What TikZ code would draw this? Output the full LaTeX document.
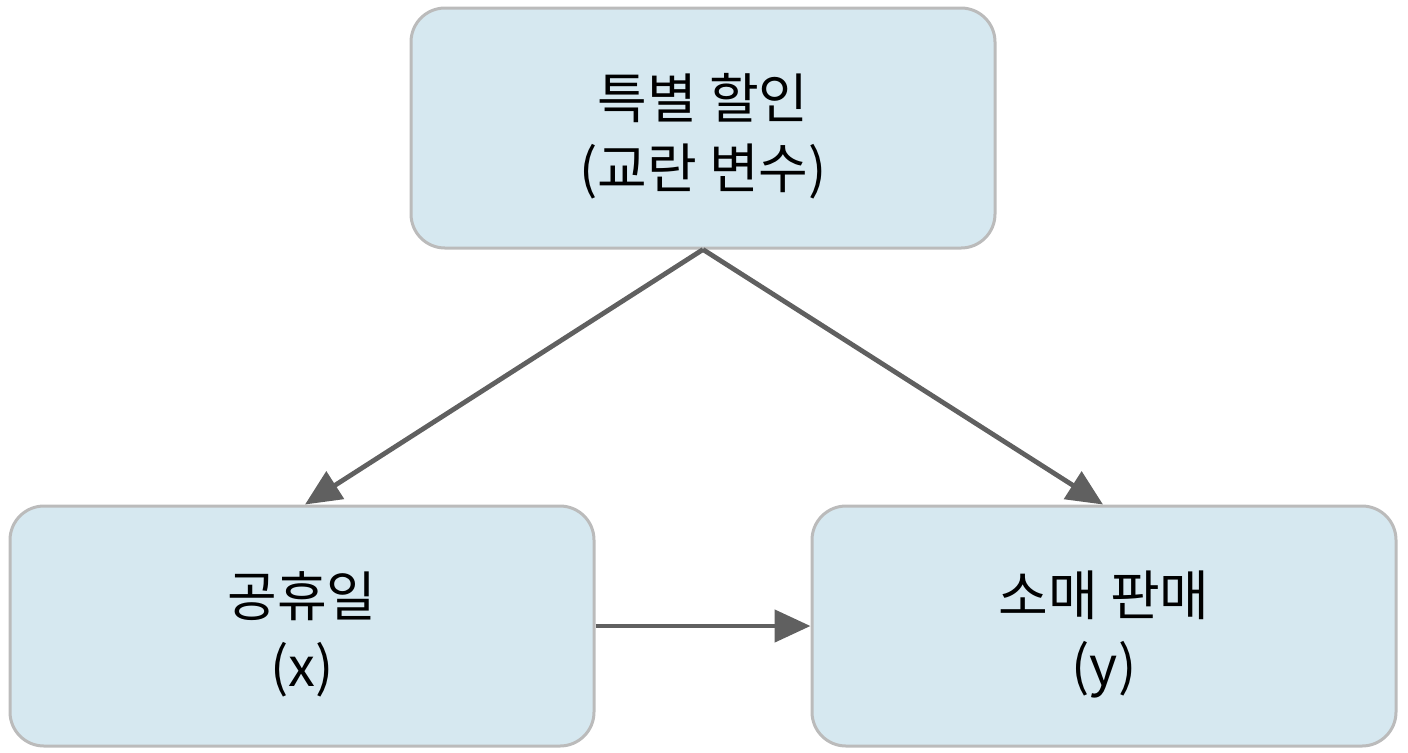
\documentclass[tikz,border=0pt]{standalone}
\usepackage{fontspec}
\setmainfont{Noto Sans CJK KR}
\usetikzlibrary{arrows.meta}
\definecolor{boxfill}{HTML}{D6E8F0}
\definecolor{boxline}{HTML}{BBBBBB}
\definecolor{arrowc}{HTML}{606060}
\tikzset{
  nodebox/.style={draw=boxline, line width=1.5pt, fill=boxfill, rounded corners=17pt,
    minimum width=292pt, minimum height=120pt, inner sep=0pt},
  boxtext/.style={align=center, inner sep=0pt, font=\fontsize{27}{35}\selectfont, yshift=-4pt},
  conn/.style={draw=arrowc, line width=2.4pt, -{Triangle[length=18pt,width=16pt]}}
}
\begin{document}
\begin{tikzpicture}[x=0.5pt,y=-0.5pt]
\useasboundingbox (0,0) rectangle (1408,752);
\node[nodebox, label={[boxtext]center:{특별 할인\\(교란 변수)}}] (top) at (703,128) {};
\node[nodebox, label={[boxtext]center:{공휴일\\(x)}}] (x) at (302,626) {};
\node[nodebox, label={[boxtext]center:{소매 판매\\(y)}}] (y) at (1104,626) {};
\draw[conn] (top.south) -- ([xshift=1.5pt]x.north);
\draw[conn] (top.south) -- ([xshift=-0.5pt]y.north);
\draw[conn] (x.east) -- (y.west);
\end{tikzpicture}
\end{document}
